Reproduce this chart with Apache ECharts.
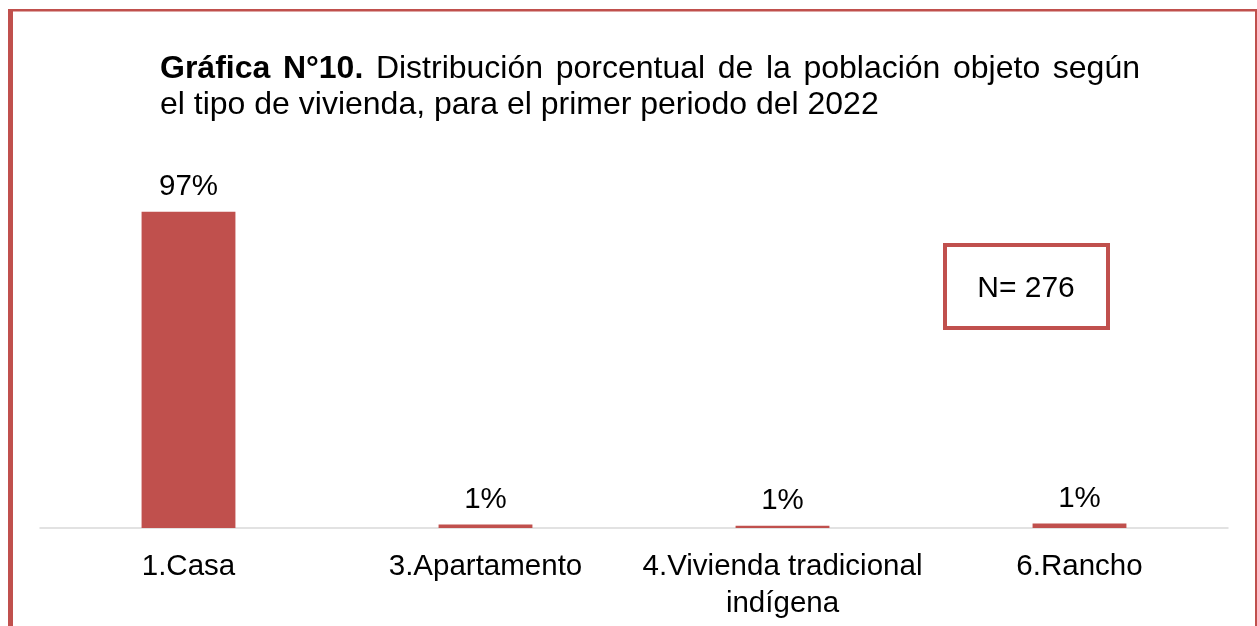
<!DOCTYPE html>
<html>
<head>
<meta charset="utf-8">
<script src="https://cdn.jsdelivr.net/npm/echarts@6/dist/echarts.min.js"></script>
<style>
  html, body { margin: 0; padding: 0; background: #fff; }
  #chart { width: 1257px; height: 626px; }
</style>
</head>
<body>
<div id="chart"></div>
<script>
// Housing type categories and their share of the population (%)
const categories = ['1.Casa', '3.Apartamento', '4.Vivienda tradicional\nindígena', '6.Rancho'];
const shares = [96.7, 1.1, 0.7, 1.4];
const sampleSize = 276;

const titleBold = 'Gráfica N°10.';
const titleLine1 = 'Distribución porcentual de la población objeto según';
const titleLine2 = 'el tipo de vivienda, para el primer periodo del 2022';

const RED = '#C0504D';
const FONT = 'Liberation Sans, Arial, Helvetica, sans-serif';
const FS = 29.5;
const TITLE_FS = 32;

const chart = echarts.init(document.getElementById('chart'), null, { renderer: 'canvas' });

// Justify the first title line between the left and right text edges
const ctx = document.createElement('canvas').getContext('2d');
const left = 160, right = 1140;
const words = [];
titleBold.split(' ').forEach(w => words.push({ t: w, bold: true }));
titleLine1.split(' ').forEach(w => words.push({ t: w, bold: false }));
let total = 0;
words.forEach(w => {
  ctx.font = (w.bold ? 'bold ' : '') + TITLE_FS + 'px ' + FONT;
  w.w = ctx.measureText(w.t).width;
  total += w.w;
});
const gap = (right - left - total) / (words.length - 1);
const titleEls = [];
let x = left;
words.forEach(w => {
  titleEls.push({
    type: 'text', x: x, y: 69,
    style: { text: w.t, font: (w.bold ? 'bold ' : '') + TITLE_FS + 'px ' + FONT, fill: '#000', verticalAlign: 'middle' }
  });
  x += w.w + gap;
});
titleEls.push({
  type: 'text', x: left, y: 105,
  style: { text: titleLine2, font: TITLE_FS + 'px ' + FONT, fill: '#000', verticalAlign: 'middle' }
});

chart.setOption({
  animation: false,
  backgroundColor: '#fff',
  grid: { left: 40, right: 29, top: 201, bottom: 98, containLabel: false },
  xAxis: {
    type: 'category',
    data: categories,
    axisLine: { show: true, lineStyle: { color: '#D9D9D9', width: 1.5 } },
    axisTick: { show: false },
    axisLabel: {
      color: '#000', fontSize: FS, fontFamily: FONT, margin: 20, lineHeight: 37,
      interval: 0
    }
  },
  yAxis: {
    type: 'value', min: 0, max: 100,
    show: false, splitLine: { show: false }
  },
  series: [{
    type: 'bar',
    data: shares,
    barWidth: '31.6%',
    itemStyle: { color: RED },
    label: {
      show: true, position: 'top', distance: 10,
      color: '#000', fontSize: FS, fontFamily: FONT,
      formatter: p => Math.round(p.value) + '%'
    }
  }],
  graphic: [
    // page frame
    { type: 'rect', shape: { x: 8, y: 9, width: 5, height: 640 }, style: { fill: RED } },
    { type: 'rect', shape: { x: 8, y: 9, width: 1250, height: 2.5 }, style: { fill: RED } },
    { type: 'rect', shape: { x: 1255, y: 9, width: 2, height: 640 }, style: { fill: RED } },
    // sample size box
    {
      type: 'rect', shape: { x: 945, y: 245, width: 163, height: 83 },
      style: { fill: '#fff', stroke: RED, lineWidth: 4 }
    },
    {
      type: 'text', x: 1026, y: 289,
      style: { text: 'N= ' + sampleSize, font: '30px ' + FONT, fill: '#000', align: 'center', verticalAlign: 'middle' }
    }
  ].concat(titleEls)
});
</script>
</body>
</html>
